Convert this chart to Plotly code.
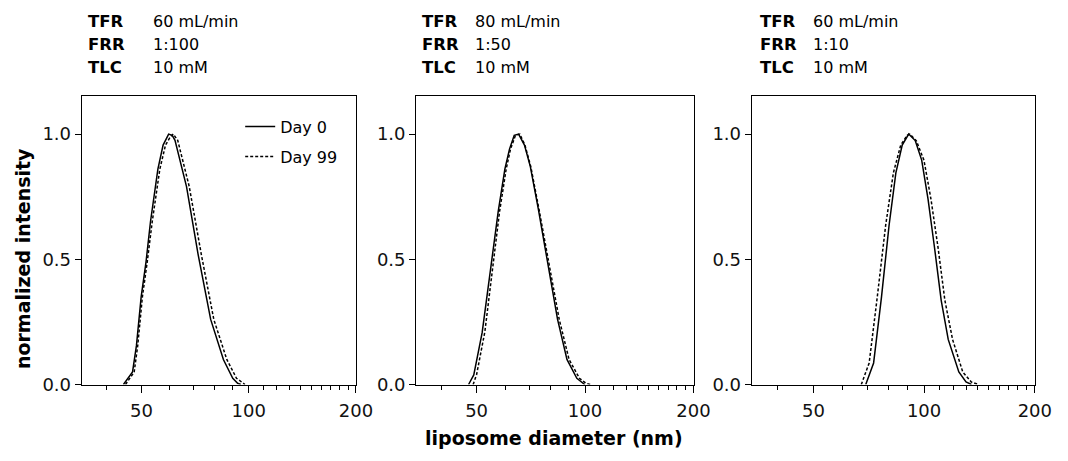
import math
import plotly.graph_objects as go

# ---------------- data (diameter in nm, normalized intensity) ----------------
p1_day0_x = [44.5, 47.2, 48.4, 49.9, 51.5, 53.0, 55.6, 57.5, 59.6, 61.0, 62.1, 66.9, 72.1, 78.2, 84.9, 90.2, 93.1, 95.0]
p1_day0_y = [0.0, 0.05, 0.155, 0.35, 0.49, 0.65, 0.86, 0.956, 1.0, 0.995, 0.975, 0.79, 0.52, 0.26, 0.10, 0.025, 0.005, 0.0]
p1_day99_x = [45.1, 47.7, 48.8, 50.3, 51.9, 53.6, 56.3, 58.4, 60.3, 61.4, 63.2, 68.1, 73.6, 79.8, 86.8, 92.4, 95.9, 97.6]
p1_day99_y = [0.0, 0.05, 0.155, 0.35, 0.49, 0.65, 0.86, 0.956, 0.99, 1.0, 0.975, 0.79, 0.52, 0.26, 0.10, 0.025, 0.008, 0.0]

p2_day0_x = [47.5, 49.1, 51.8, 54.8, 57.4, 59.9, 61.7, 63.6, 65.4, 67.9, 70.5, 74.2, 78.8, 83.9, 89.1, 94.9, 99.8]
p2_day0_y = [0.0, 0.038, 0.207, 0.48, 0.69, 0.86, 0.94, 0.995, 1.0, 0.956, 0.87, 0.70, 0.48, 0.26, 0.10, 0.025, 0.0]
p2_day99_x = [48.9, 50.0, 52.7, 55.5, 57.9, 60.4, 62.1, 64.1, 65.9, 68.1, 70.7, 74.5, 79.3, 84.8, 90.3, 96.5, 100.6, 103.6]
p2_day99_y = [0.0, 0.04, 0.21, 0.48, 0.69, 0.86, 0.94, 0.995, 1.0, 0.956, 0.87, 0.70, 0.48, 0.26, 0.10, 0.025, 0.005, 0.0]

p3_day0_x = [69.4, 72.9, 76.6, 80.3, 83.8, 87.2, 90.8, 94.6, 98.5, 102.5, 106.8, 111.3, 116.3, 124.3, 130.0, 134.5]
p3_day0_y = [0.0, 0.086, 0.35, 0.635, 0.845, 0.956, 1.0, 0.974, 0.896, 0.74, 0.544, 0.336, 0.18, 0.05, 0.01, 0.0]
p3_day99_x = [67.5, 70.9, 74.6, 78.6, 82.5, 86.4, 90.0, 91.4, 95.2, 99.9, 104.4, 109.2, 113.9, 119.5, 127.4, 134.4, 140.6]
p3_day99_y = [0.0, 0.086, 0.35, 0.635, 0.845, 0.956, 0.995, 1.0, 0.974, 0.896, 0.74, 0.544, 0.336, 0.18, 0.05, 0.01, 0.0]

series_names = ["Day 0", "Day 99"]
x_major_ticks = [50, 100, 200]
x_minor_ticks = [40, 60, 70, 80, 90, 110, 120, 130, 140, 150, 160, 170, 180, 190]
y_ticks = [0.0, 0.5, 1.0]
y_ticklabels = ["0.0", "0.5", "1.0"]

conditions = [
    ("60 mL/min", "1:100", "10 mM"),
    ("80 mL/min", "1:50", "10 mM"),
    ("60 mL/min", "1:10", "10 mM"),
]
param_labels = ["TFR", "FRR", "TLC"]

x_title = "liposome diameter (nm)"
y_title = "normalized intensity"

# ---------------- figure ----------------
# The page body keeps the browser's default 8px margin, so the figure is sized
# to fit the 1068 px window inside it and positions are given in window pixels.
PAGE_MARGIN = 8
W, H = 1068 - 2 * PAGE_MARGIN, 461 - PAGE_MARGIN
FONT = "DejaVu Sans, Verdana, sans-serif"


def fx(px):
    return (px - PAGE_MARGIN) / W


def fy(py):
    return 1 - (py - PAGE_MARGIN) / H


panels = [
    (p1_day0_x, p1_day0_y, p1_day99_x, p1_day99_y),
    (p2_day0_x, p2_day0_y, p2_day99_x, p2_day99_y),
    (p3_day0_x, p3_day0_y, p3_day99_x, p3_day99_y),
]
domains_px = [(83, 362), (423, 705), (764, 1052)]
y_dom = [fy(393), fy(98)]

fig = go.Figure()
for i, (x0, y0, x1, y1) in enumerate(panels):
    ax = "" if i == 0 else str(i + 1)
    fig.add_trace(go.Scatter(
        x=x0, y=y0, mode="lines", name=series_names[0],
        line=dict(color="black", width=1.5),
        xaxis="x" + ax, yaxis="y" + ax,
        showlegend=(i == 0), legendgroup="a",
    ))
    fig.add_trace(go.Scatter(
        x=x1, y=y1, mode="lines", name=series_names[1],
        line=dict(color="black", width=1.5, dash="3px,2px"),
        xaxis="x" + ax, yaxis="y" + ax,
        showlegend=(i == 0), legendgroup="b",
    ))

    xa = dict(
        type="log",
        domain=[fx(domains_px[i][0]), fx(domains_px[i][1])],
        range=[math.log10(34), math.log10(200.4)],
        anchor="y" + ax,
        showgrid=False, zeroline=False,
        showline=True, linecolor="black", linewidth=1.3, mirror=True,
        ticks="outside", ticklen=7, tickwidth=1.3, tickcolor="black",
        tickvals=x_major_ticks, ticktext=[str(v) for v in x_major_ticks],
        tickfont=dict(family=FONT, size=18, color="#111"),
        ticklabelstandoff=3,
        minor=dict(tickvals=x_minor_ticks, ticks="outside", ticklen=4,
                   tickwidth=1.2, tickcolor="black", showgrid=False),
    )
    ya = dict(
        domain=list(y_dom),
        range=[0, 1.152],
        anchor="x" + ax,
        showgrid=False, zeroline=False,
        showline=True, linecolor="black", linewidth=1.3, mirror=True,
        ticks="outside", ticklen=6, tickwidth=1.3, tickcolor="black",
        tickvals=y_ticks, ticktext=y_ticklabels,
        tickfont=dict(family=FONT, size=18, color="#111"),
    )
    fig.layout["xaxis" + ax] = xa
    fig.layout["yaxis" + ax] = ya

# condition annotations above each panel
label_x_px = [87, 427, 770]
value_x_px = [153, 481, 824]
row_y_px = [22, 45, 69]
annotations = []
for i, cond in enumerate(conditions):
    for r in range(3):
        annotations.append(dict(
            x=fx(label_x_px[i]), y=fy(row_y_px[r]), xref="paper", yref="paper",
            xanchor="left", yanchor="middle", showarrow=False,
            text="<b>" + param_labels[r] + "</b>",
            font=dict(family=FONT, size=16.5, color="black"),
        ))
        annotations.append(dict(
            x=fx(value_x_px[i]), y=fy(row_y_px[r]), xref="paper", yref="paper",
            xanchor="left", yanchor="middle", showarrow=False,
            text=cond[r],
            font=dict(family=FONT, size=16, color="black"),
        ))

annotations.append(dict(
    x=fx(563), y=fy(448), xref="paper", yref="paper",
    xanchor="center", yanchor="middle", showarrow=False,
    text="<b>" + x_title + "</b>",
    font=dict(family=FONT, size=19, color="black"),
))
annotations.append(dict(
    x=fx(24), y=fy(264), xref="paper", yref="paper",
    xanchor="center", yanchor="middle", showarrow=False, textangle=-90,
    text="<b>" + y_title + "</b>",
    font=dict(family=FONT, size=19, color="black"),
))

fig.update_layout(
    width=W, height=H,
    margin=dict(l=0, r=0, t=0, b=0),
    paper_bgcolor="white", plot_bgcolor="white",
    annotations=annotations,
    showlegend=True,
    legend=dict(
        x=fx(244), y=fy(112), xanchor="left", yanchor="top",
        bgcolor="rgba(0,0,0,0)", borderwidth=0,
        font=dict(family=FONT, size=16, color="black"),
        tracegroupgap=6, traceorder="grouped", itemwidth=30,
    ),
)

fig.write_html("out.html", config={"displayModeBar": False})
